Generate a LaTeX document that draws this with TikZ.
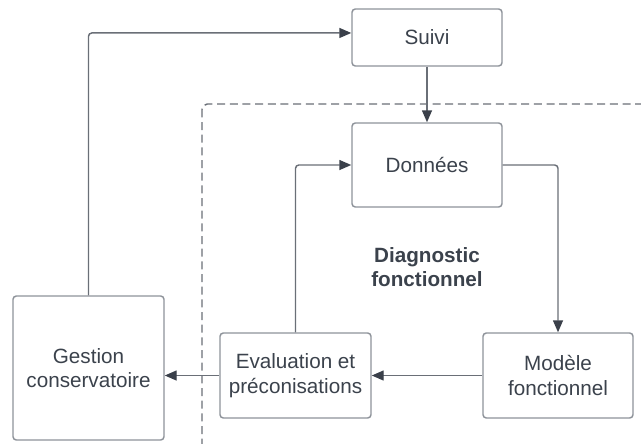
\documentclass[tikz,border=0pt]{standalone}
\usepackage{fontspec}
\setmainfont{Liberation Sans}
\usetikzlibrary{arrows.meta, positioning}
\definecolor{bord}{HTML}{8E939A}
\definecolor{trait}{HTML}{6A6F77}
\definecolor{pointe}{HTML}{3A404A}
\definecolor{texte}{HTML}{3B424C}

\begin{document}
\begin{tikzpicture}[
    x=0.75pt, y=-0.75pt,
    every node/.style={font=\fontsize{15.5}{18.5}\selectfont, text=texte},
    boite/.style={draw=bord, line width=1.1pt, rounded corners=2.5pt, fill=white, align=center, inner sep=0pt, minimum width=112.5pt},
    fleche/.style={draw=trait, line width=1.1pt, rounded corners=2.5pt, -{Triangle[length=9pt, width=7.5pt, color=pointe]}}
]
\clip (0,0) rectangle (641,443);

% Cadre du diagnostic
\draw[trait, line width=1.1pt, dash pattern=on 6pt off 3.5pt, rounded corners=4pt] (202,104) rectangle (680,480);

% Boites
\node[boite, minimum height=42.75pt] (suivi) at (427,37.5) {Suivi};
\node[boite, minimum height=63pt] (donnees) at (427,165) {Données};
\node[boite, minimum width=113.25pt, minimum height=108pt] (gestion) at (88.5,368) {Gestion\\conservatoire};
\node[boite, minimum width=113.25pt, minimum height=63.75pt] (evaluation) at (295.5,375.5) {Evaluation et\\préconisations};
\node[boite, minimum height=63.75pt] (modele) at (558,375.5) {Modèle\\fonctionnel};

\node[font=\bfseries\fontsize{15.5}{18.5}\selectfont, align=center] (diag) at (427,267) {Diagnostic\\fonctionnel};

% Liens
\draw[fleche] (gestion.north) |- ([yshift=3.4pt]suivi.west);
\draw[fleche] (suivi) -- (donnees);
\draw[fleche] (donnees.east) -| (modele.north);
\draw[fleche] (modele) -- (evaluation);
\draw[fleche] (evaluation.west) -- (evaluation.west -| gestion.east);
\draw[fleche] (evaluation.north) |- (donnees.west);

\end{tikzpicture}
\end{document}
